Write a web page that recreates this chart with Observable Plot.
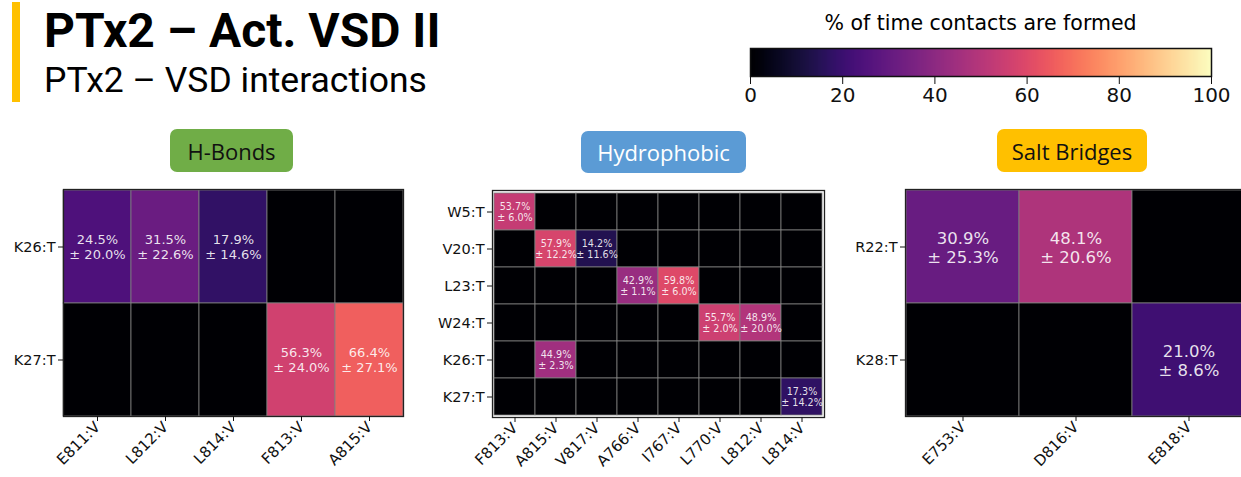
<!DOCTYPE html>
<html>
<head>
<meta charset="utf-8">
<script src="https://cdn.jsdelivr.net/npm/d3@7"></script>
<script src="https://cdn.jsdelivr.net/npm/@observablehq/plot@0.6"></script>
<style>
  html, body { margin: 0; padding: 0; background: #fff; }
  body { width: 1241px; height: 477px; overflow: hidden; position: relative; }
  .abs { position: absolute; }
  .title { font-family: Roboto, sans-serif; font-weight: 700; font-size: 48px; line-height: 1; white-space: nowrap; color: #000; }
  .subtitle { font-family: Roboto, sans-serif; font-weight: 400; font-size: 35.5px; line-height: 1; white-space: nowrap; color: #000; }
  .tag { font-family: "Open Sans", sans-serif; font-size: 22px; display: flex; align-items: center; justify-content: center; border-radius: 7px; }
  .cbtitle { font-family: "DejaVu Sans", sans-serif; font-size: 20.5px; white-space: nowrap; text-align: center; line-height: 1; }
</style>
</head>
<body>
<script>
// ---------- Data ----------
const titleText = "PTx2 – Act. VSD II";
const subtitleText = "PTx2 – VSD interactions";
const colorbarLabel = "% of time contacts are formed";
const colorbarTicks = [0, 20, 40, 60, 80, 100];

const panelNames = ["H-Bonds", "Hydrophobic", "Salt Bridges"];

const hbRows = ["K26:T", "K27:T"];
const hbCols = ["E811:V", "L812:V", "L814:V", "F813:V", "A815:V"];
const hbMean = [
  [24.5, 31.5, 17.9, 0, 0],
  [0, 0, 0, 56.3, 66.4]
];
const hbSd = [
  [20.0, 22.6, 14.6, 0, 0],
  [0, 0, 0, 24.0, 27.1]
];

const hyRows = ["W5:T", "V20:T", "L23:T", "W24:T", "K26:T", "K27:T"];
const hyCols = ["F813:V", "A815:V", "V817:V", "A766:V", "I767:V", "L770:V", "L812:V", "L814:V"];
const hyMean = [
  [53.7, 0, 0, 0, 0, 0, 0, 0],
  [0, 57.9, 14.2, 0, 0, 0, 0, 0],
  [0, 0, 0, 42.9, 59.8, 0, 0, 0],
  [0, 0, 0, 0, 0, 55.7, 48.9, 0],
  [0, 44.9, 0, 0, 0, 0, 0, 0],
  [0, 0, 0, 0, 0, 0, 0, 17.3]
];
const hySd = [
  [6.0, 0, 0, 0, 0, 0, 0, 0],
  [0, 12.2, 11.6, 0, 0, 0, 0, 0],
  [0, 0, 0, 1.1, 6.0, 0, 0, 0],
  [0, 0, 0, 0, 0, 2.0, 20.0, 0],
  [0, 2.3, 0, 0, 0, 0, 0, 0],
  [0, 0, 0, 0, 0, 0, 0, 14.2]
];

const sbRows = ["R22:T", "K28:T"];
const sbCols = ["E753:V", "D816:V", "E818:V"];
const sbMean = [
  [30.9, 48.1, 0],
  [0, 0, 21.0]
];
const sbSd = [
  [25.3, 20.6, 0],
  [0, 0, 8.6]
];

// ---------- Helpers ----------
function el(tag, cls, style, text) {
  const e = document.createElement(tag);
  if (cls) e.className = cls;
  Object.assign(e.style, style);
  if (text != null) e.textContent = text;
  document.body.appendChild(e);
  return e;
}

function table(rows, cols, mean, sd) {
  const out = [];
  rows.forEach((r, i) => cols.forEach((c, j) => out.push({ row: r, col: c, v: mean[i][j], sd: sd[i][j] })));
  return out;
}

const colorSpec = { scheme: "magma", domain: [0, 100] };

function heatmap({ rows, cols, mean, sd, width, height, ml, mr, mt, mb, cellFont }) {
  const data = table(rows, cols, mean, sd);
  return Plot.plot({
    width, height,
    marginLeft: ml, marginRight: mr, marginTop: mt, marginBottom: mb,
    style: { fontFamily: "DejaVu Sans, sans-serif", background: "transparent", overflow: "visible" },
    x: { domain: cols, padding: 0 },
    y: { domain: rows, padding: 0 },
    color: colorSpec,
    marks: [
      Plot.cell(data, { x: "col", y: "row", fill: "v", inset: 0, stroke: "#808080", strokeWidth: 0.8 }),
      Plot.text(data.filter(d => d.v > 0), {
        x: "col", y: "row",
        text: d => `${d.v.toFixed(1)}%\n± ${d.sd.toFixed(1)}%`,
        fill: "white", fillOpacity: 0.88, fontSize: cellFont, lineHeight: 1.15
      }),
      Plot.frame({ stroke: "#222", strokeWidth: 1.3 }),
      Plot.axisY({ tickSize: 5, tickPadding: 3, fontSize: 14.5, label: null, color: "#111" }),
      Plot.axisX({ tickSize: 5, tickPadding: 3, tickRotate: -45, fontSize: 15, label: null, color: "#111" })
    ]
  });
}

// ---------- Header ----------
el("div", "abs", { left: "12px", top: "2px", width: "8px", height: "100px", background: "#FFC000" });
el("div", "abs title", { left: "44px", top: "7px" }, titleText);
el("div", "abs subtitle", { left: "44px", top: "63px" }, subtitleText);

// ---------- Colorbar ----------
el("div", "abs cbtitle", { left: "750px", width: "461px", top: "13px" }, colorbarLabel);
const cb = Plot.plot({
  width: 521, height: 120,
  marginLeft: 30, marginRight: 30, marginTop: 48, marginBottom: 44,
  style: { fontFamily: "DejaVu Sans, sans-serif", background: "transparent", overflow: "visible" },
  x: { domain: [0, 100] },
  y: { domain: [0, 1], axis: null },
  color: colorSpec,
  marks: [
    Plot.raster({ x1: 0, x2: 100, y1: 0, y2: 1, fill: (x, y) => x, width: 461, height: 1 }),
    Plot.frame({ stroke: "#111", strokeWidth: 1.5 }),
    Plot.axisX({ ticks: colorbarTicks, tickSize: 8, tickPadding: 3, fontSize: 20, label: null, color: "#111" })
  ]
});
Object.assign(cb.style, { position: "absolute", left: "720px", top: "0px" });
document.body.appendChild(cb);

// ---------- Panel tags ----------
el("div", "abs tag", { left: "170px", top: "129px", width: "123px", height: "43px", background: "#70AD47", color: "#111" }, panelNames[0]);
el("div", "abs tag", { left: "581px", top: "131px", width: "165px", height: "42px", background: "#5B9BD5", color: "#fff" }, panelNames[1]);
el("div", "abs tag", { left: "997px", top: "129px", width: "150px", height: "43px", background: "#FFC000", color: "#111" }, panelNames[2]);

// ---------- Heatmaps ----------
const p1 = heatmap({ rows: hbRows, cols: hbCols, mean: hbMean, sd: hbSd, width: 420, height: 357, ml: 63, mr: 17, mt: 69, mb: 61, cellFont: 13 });
Object.assign(p1.style, { position: "absolute", left: "0px", top: "120px" });
document.body.appendChild(p1);

const p2 = heatmap({ rows: hyRows, cols: hyCols, mean: hyMean, sd: hySd, width: 420, height: 357, ml: 72, mr: 16, mt: 70, mb: 60, cellFont: 9.6 });
Object.assign(p2.style, { position: "absolute", left: "420px", top: "120px" });
document.body.appendChild(p2);

const p3 = heatmap({ rows: sbRows, cols: sbCols, mean: sbMean, sd: sbSd, width: 430, height: 357, ml: 75, mr: 15, mt: 69, mb: 61, cellFont: 16.5 });
Object.assign(p3.style, { position: "absolute", left: "830px", top: "120px" });
document.body.appendChild(p3);
</script>
</body>
</html>
